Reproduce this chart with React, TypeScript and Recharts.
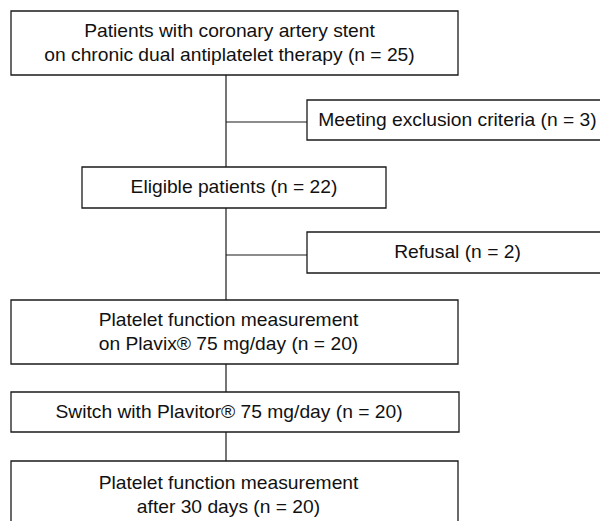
import { ComposedChart, XAxis, YAxis, ReferenceArea, ReferenceLine } from 'recharts'

// flow steps (main column)
const mainSteps = [
  ['Patients with coronary artery stent', 'on chronic dual antiplatelet therapy'],
  ['Eligible patients'],
  ['Platelet function measurement', 'on Plavix® 75 mg/day'],
  ['Switch with Plavitor® 75 mg/day'],
  ['Platelet function measurement', 'after 30 days'],
]
const mainCounts = [25, 22, 20, 20, 20]

// patients leaving the flow
const exitSteps = ['Meeting exclusion criteria', 'Refusal']
const exitCounts = [3, 2]

// layout, in chart units (= px): [left, right, top, bottom]
const W = 600
const H = 521
const mainBoxes = [
  [11, 458, 11, 75],
  [82, 386, 167, 208],
  [11, 458, 300, 364],
  [11, 459, 392, 432],
  [11, 458, 461, 529],
]
const mainTextDx = [-5, 0, -6, -6, -6]
const exitBoxes = [
  [307, 608, 100, 140],
  [307, 608, 232, 273],
]
const exitBranchY = [122, 255]
const spineX = 226

const FONT = '"Liberation Sans", Arial, Helvetica, sans-serif'
const INK = '#1a1a1a'

const BoxText = ({ viewBox, lines, dx }: any) => {
  if (!viewBox) return null
  const cx = viewBox.x + viewBox.width / 2 + dx
  const cy = viewBox.y + viewBox.height / 2
  const start = cy + 6 - ((lines.length - 1) * 24) / 2
  // the source lettering is a little wider than Arial, stretch it horizontally
  return (
    <g transform={`translate(${cx},0) scale(1.1,1)`}>
      <text x={0} textAnchor="middle" fontFamily={FONT} fontSize={17.5} fill="#111">
        {lines.map((l: string, i: number) => (
          <tspan key={i} x={0} y={start + i * 24}>{l}</tspan>
        ))}
      </text>
    </g>
  )
}

const withCount = (lines: string[], n: number) =>
  lines.map((l, i) => (i === lines.length - 1 ? `${l} (n = ${n})` : l))

export default function App() {
  const connectors = mainBoxes.slice(0, -1).map((b, i) => ({
    from: b[3],
    to: mainBoxes[i + 1][2],
  }))

  return (
    <div style={{ position: 'absolute', left: 0, top: 0, width: W, height: H, background: '#fff' }}>
      <ComposedChart width={W} height={H} data={[]} margin={{ top: 0, right: 0, bottom: 0, left: 0 }}>
        <XAxis type="number" dataKey="x" domain={[0, W]} hide allowDataOverflow />
        <YAxis type="number" dataKey="y" domain={[0, H]} reversed hide allowDataOverflow />

        {connectors.map((c, i) => (
          <ReferenceLine
            key={`spine-${i}`}
            segment={[{ x: spineX, y: c.from }, { x: spineX, y: c.to }]}
            stroke={INK}
            strokeWidth={1.2}
            ifOverflow="visible"
          />
        ))}
        {exitBranchY.map((y, i) => (
          <ReferenceLine
            key={`branch-${i}`}
            segment={[{ x: spineX, y }, { x: exitBoxes[i][0], y }]}
            stroke={INK}
            strokeWidth={1.2}
            ifOverflow="visible"
          />
        ))}

        {mainBoxes.map((b, i) => (
          <ReferenceArea
            key={`main-${i}`}
            x1={b[0]}
            x2={b[1]}
            y1={b[2]}
            y2={b[3]}
            fill="#fff"
            fillOpacity={1}
            stroke={INK}
            strokeWidth={1.3}
            ifOverflow="visible"
            label={(p: any) => <BoxText {...p} lines={withCount(mainSteps[i], mainCounts[i])} dx={mainTextDx[i]} />}
          />
        ))}
        {exitBoxes.map((b, i) => (
          <ReferenceArea
            key={`exit-${i}`}
            x1={b[0]}
            x2={b[1]}
            y1={b[2]}
            y2={b[3]}
            fill="#fff"
            fillOpacity={1}
            stroke={INK}
            strokeWidth={1.3}
            ifOverflow="visible"
            label={(p: any) => <BoxText {...p} lines={withCount([exitSteps[i]], exitCounts[i])} dx={0} />}
          />
        ))}
      </ComposedChart>
    </div>
  )
}
